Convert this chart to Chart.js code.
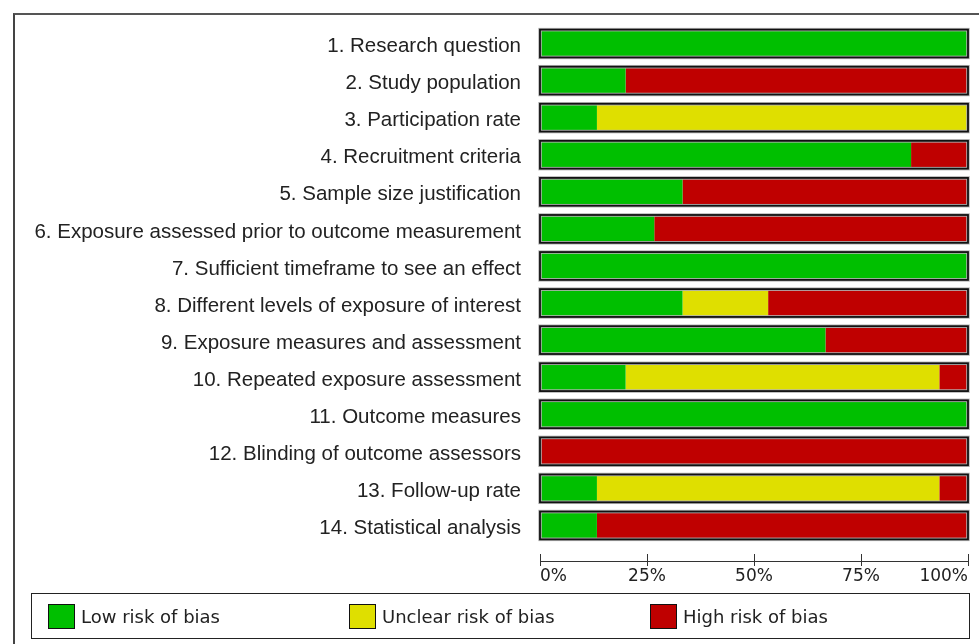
<!DOCTYPE html>
<html>
<head>
<meta charset="utf-8">
<script src="https://cdn.jsdelivr.net/npm/chart.js@4.4.1/dist/chart.umd.min.js"></script>
<style>
  body { margin: 0; background: #fff; overflow: hidden; }
  #wrap { position: relative; width: 979px; height: 644px; }
  #chart { position: absolute; left: 0; top: 0; }
  #frame { position: absolute; left: 13px; top: 13px; width: 1000px; height: 700px;
           border-top: 2px solid #555; border-left: 2px solid #444; pointer-events: none; }
  #legend { position: absolute; left: 31px; top: 593px; width: 939px; height: 46px; box-sizing: border-box;
            border: 1px solid #222; padding-left: 16px; display: flex; align-items: center;
            font: 18px "DejaVu Sans"; color: #222; }
  .item { width: 301px; display: flex; align-items: center; }
  .swatch { width: 25px; height: 23px; border: 1px solid #111; margin-right: 6px; }
</style>
</head>
<body>
<div id="wrap">
  <canvas id="chart" width="979" height="644"></canvas>
  <div id="frame"></div>
  <div id="legend"></div>
</div>
<script>
const categories = [
  '1. Research question',
  '2. Study population',
  '3. Participation rate',
  '4. Recruitment criteria',
  '5. Sample size justification',
  '6. Exposure assessed prior to outcome measurement',
  '7. Sufficient timeframe to see an effect',
  '8. Different levels of exposure of interest',
  '9. Exposure measures and assessment',
  '10. Repeated exposure assessment',
  '11. Outcome measures',
  '12. Blinding of outcome assessors',
  '13. Follow-up rate',
  '14. Statistical analysis'
];
const lowRisk     = [100, 20, 13.3, 86.7, 33.3, 26.7, 100, 33.3, 66.7, 20, 100, 0, 13.3, 13.3];
const unclearRisk = [0, 0, 86.7, 0, 0, 0, 0, 20, 0, 73.3, 0, 0, 80, 0];
const highRisk    = [0, 80, 0, 13.3, 66.7, 73.3, 0, 46.7, 33.3, 6.7, 0, 100, 6.7, 86.7];
const xTicks = [0, 25, 50, 75, 100];

function points(values) {
  return values.map((v, i) => ({ x: v, y: i }));
}

// dark outline round each whole bar (segments have no border of their own)
const barOutline = {
  id: 'barOutline',
  afterDatasetsDraw(chart) {
    const ctx = chart.ctx;
    const xs = chart.scales.x;
    const left = xs.getPixelForValue(0);
    const right = xs.getPixelForValue(100);
    const bars = chart.getDatasetMeta(0).data;
    ctx.save();
    bars.forEach(b => {
      const top = b.y - b.height / 2;
      ctx.strokeStyle = '#b5b5b5';
      ctx.lineWidth = 3.5;
      ctx.strokeRect(left, top, right - left, b.height);
      ctx.strokeStyle = '#111';
      ctx.lineWidth = 1.8;
      ctx.strokeRect(left, top, right - left, b.height);
    });
    ctx.restore();
  }
};

const setXTicks = scale => { scale.ticks = xTicks.map(v => ({ value: v })); };

const chart = new Chart(document.getElementById('chart'), {
  type: 'bar',
  data: {
    datasets: [
      { label: 'Low risk of bias', data: points(lowRisk), backgroundColor: '#00bf00' },
      { label: 'Unclear risk of bias', data: points(unclearRisk), backgroundColor: '#dfdf00' },
      { label: 'High risk of bias', data: points(highRisk), backgroundColor: '#bf0000' }
    ]
  },
  options: {
    indexAxis: 'y',
    responsive: false,
    animation: false,
    datasets: { bar: { barPercentage: 1, categoryPercentage: 0.75, borderWidth: 0 } },
    layout: { padding: { left: 0, top: 25, right: 11, bottom: 55 } },
    plugins: { legend: { display: false }, tooltip: { enabled: false } },
    scales: {
      y: {
        type: 'linear',
        reverse: true,
        stacked: true,
        offset: false,
        min: -0.5,
        max: 13.77,
        afterBuildTicks: scale => { scale.ticks = categories.map((c, i) => ({ value: i })); },
        afterFit: scale => {
          scale.width = 540;
          scale.paddingTop = 0;
          scale.paddingBottom = 0;
        },
        grid: { display: false, drawTicks: false },
        border: { display: false },
        ticks: {
          autoSkip: false,
          padding: 19,
          labelOffset: 3,
          color: '#222',
          font: { family: 'Liberation Sans', size: 20.5 },
          callback: v => categories[v]
        }
      },
      x: {
        type: 'linear',
        stacked: true,
        position: 'bottom',
        weight: 0,
        min: 0,
        max: 100,
        afterBuildTicks: setXTicks,
        afterFit: scale => { scale.height = 7; },
        grid: { drawOnChartArea: false, tickLength: 7, color: '#333' },
        border: { display: false },
        ticks: { display: false }
      },
      x2: {
        type: 'linear',
        position: 'bottom',
        weight: 1,
        min: 0,
        max: 100,
        afterBuildTicks: setXTicks,
        afterFit: scale => { scale.height = 28; },
        grid: { drawOnChartArea: false, tickLength: 5, color: '#333' },
        border: { display: true, color: '#333', width: 1 },
        ticks: {
          align: 'inner',
          padding: 0,
          color: '#222',
          font: { family: 'DejaVu Sans', size: 17 },
          callback: v => v + '%'
        }
      }
    }
  },
  plugins: [barOutline]
});

let legend = document.getElementById('legend');
chart.data.datasets.forEach(ds => {
  legend.innerHTML +=
    '<div class="item"><span class="swatch" style="background:' + ds.backgroundColor + '"></span>' +
    ds.label + '</div>';
});
</script>
</body>
</html>
